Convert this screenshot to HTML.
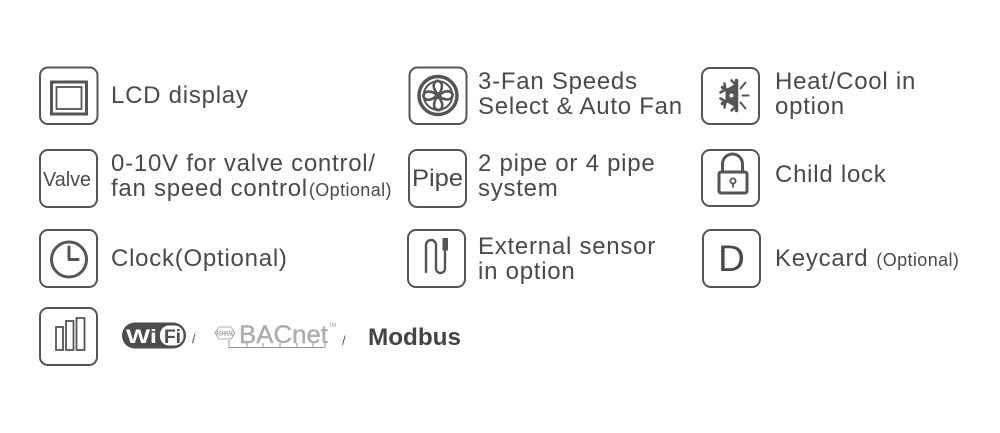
<!DOCTYPE html>
<html>
<head>
<meta charset="utf-8">
<style>
  html,body{margin:0;padding:0;background:#fff;}
  svg{display:block;}
  .t{font-family:"Liberation Sans",Arial,sans-serif;font-size:24px;fill:#4a4a4a;letter-spacing:0.75px;}
  .s{font-family:"Liberation Sans",Arial,sans-serif;font-size:18px;fill:#4a4a4a;letter-spacing:0.4px;}
  .box{fill:none;stroke:#555;stroke-width:2;}
  .ic{fill:none;stroke:#555;stroke-linecap:round;stroke-linejoin:round;}
</style>
</head>
<body>
<svg width="1000" height="433" viewBox="0 0 1000 433" xmlns="http://www.w3.org/2000/svg">
  <rect width="1000" height="433" fill="#fff"/>

  <!-- ===== Row 1 ===== -->
  <!-- LCD -->
  <rect class="box" x="40" y="67.5" width="57.5" height="56.5" rx="8"/>
  <rect x="51.5" y="82" width="35" height="32" fill="none" stroke="#555" stroke-width="3"/>
  <rect x="56.5" y="87" width="25" height="22" fill="none" stroke="#555" stroke-width="1.8"/>
  <text class="t" x="111" y="103">LCD display</text>

  <!-- Fan -->
  <rect class="box" x="409.5" y="67.5" width="57" height="56.5" rx="8"/>
  <circle cx="438" cy="95.5" r="19" fill="none" stroke="#555" stroke-width="3.5"/>
  <circle cx="438" cy="95.5" r="14.3" fill="none" stroke="#555" stroke-width="2"/>
  <g transform="translate(438,95.5) rotate(45)" fill="none" stroke="#555" stroke-width="2.6" stroke-linejoin="round">
    <path d="M0,0 C1,-4 2,-11 7,-11.5 C11.5,-12 12,-7 10,-4.5 C7.5,-1.5 3,0 0,0 Z"/>
    <path d="M0,0 C1,-4 2,-11 7,-11.5 C11.5,-12 12,-7 10,-4.5 C7.5,-1.5 3,0 0,0 Z" transform="rotate(90)"/>
    <path d="M0,0 C1,-4 2,-11 7,-11.5 C11.5,-12 12,-7 10,-4.5 C7.5,-1.5 3,0 0,0 Z" transform="rotate(180)"/>
    <path d="M0,0 C1,-4 2,-11 7,-11.5 C11.5,-12 12,-7 10,-4.5 C7.5,-1.5 3,0 0,0 Z" transform="rotate(270)"/>
    <circle cx="0" cy="0" r="2.2" fill="#555"/>
  </g>
  <text class="t" x="478" y="89">3-Fan Speeds</text>
  <text class="t" x="478" y="114">Select &amp; Auto Fan</text>

  <!-- Heat/Cool -->
  <rect class="box" x="702" y="68" width="57" height="56" rx="8"/>
  <g transform="translate(736.5,95.5)" stroke="#555" stroke-linecap="round" fill="none">
    <path d="M0,-11 L-10,-5.5 L-10,5.5 L0,11 Z" fill="#555" stroke-width="2"/>
    <line x1="0" y1="-15" x2="0" y2="15" stroke-width="3.5"/>
    <line x1="0" y1="0" x2="-14" y2="-8" stroke-width="3.5"/>
    <line x1="0" y1="0" x2="-14" y2="8" stroke-width="3.5"/>
    <path d="M-5,-15 L0,-10" stroke-width="2.5"/>
    <path d="M-16,-3 L-11,-6 L-12,-12" stroke-width="2.5"/>
    <path d="M-16,3 L-11,6 L-12,12" stroke-width="2.5"/>
    <path d="M-5,15 L0,10" stroke-width="2.5"/>
    <circle cx="-5" cy="0" r="2" fill="#fff" stroke="none"/>
    <line x1="4" y1="-7" x2="9" y2="-13" stroke-width="2"/>
    <line x1="6" y1="0" x2="12" y2="0" stroke-width="2"/>
    <line x1="4" y1="7" x2="9" y2="13" stroke-width="2"/>
  </g>
  <text class="t" x="775" y="89">Heat/Cool in</text>
  <text class="t" x="775" y="114">option</text>

  <!-- ===== Row 2 ===== -->
  <rect class="box" x="40" y="150" width="57" height="57" rx="8"/>
  <text x="43" y="186" font-family="Liberation Sans, Arial, sans-serif" font-size="20" fill="#4a4a4a" textLength="48" lengthAdjust="spacingAndGlyphs">Valve</text>
  <text class="t" x="111" y="171">0-10V for valve control/</text>
  <text class="t" x="111" y="196">fan speed control<tspan class="s" dx="1">(Optional)</tspan></text>

  <rect class="box" x="409" y="150" width="57" height="57" rx="8"/>
  <text x="412" y="186" font-family="Liberation Sans, Arial, sans-serif" font-size="24" fill="#4a4a4a" textLength="51" lengthAdjust="spacingAndGlyphs">Pipe</text>
  <text class="t" x="478" y="171">2 pipe or 4 pipe</text>
  <text class="t" x="478" y="196">system</text>

  <rect class="box" x="702" y="150" width="57" height="56" rx="8"/>
  <path d="M722.5,172 V164 A10,10 0 0 1 742.5,164 V172" class="ic" stroke-width="3"/>
  <rect x="719" y="172" width="28" height="21" rx="2" class="ic" stroke-width="3"/>
  <circle cx="733" cy="181" r="2.6" class="ic" stroke-width="1.8"/>
  <line x1="733" y1="183.5" x2="733" y2="187" class="ic" stroke-width="1.8"/>
  <text class="t" x="775" y="182">Child lock</text>

  <!-- ===== Row 3 ===== -->
  <rect class="box" x="40" y="230" width="57" height="57" rx="8"/>
  <circle cx="69" cy="259.5" r="17.5" class="ic" stroke-width="3"/>
  <path d="M69,247 V259.5 H78" class="ic" stroke-width="3"/>
  <text class="t" x="111" y="266">Clock(Optional)</text>

  <rect class="box" x="408" y="230" width="57" height="57" rx="8"/>
  <path d="M426,272 V245 A5,5 0 0 1 436,245 V268.5 A4.5,4.5 0 0 0 445,268.5 V250" class="ic" stroke-width="2.4"/>
  <rect x="442.5" y="238" width="5.5" height="12.5" fill="#555"/>
  <text class="t" x="478" y="254">External sensor</text>
  <text class="t" x="478" y="279">in option</text>

  <rect class="box" x="703" y="230" width="57" height="57" rx="8"/>
  <text x="731.5" y="271" text-anchor="middle" font-family="Liberation Sans, Arial, sans-serif" font-size="37" fill="#4a4a4a">D</text>
  <text class="t" x="775" y="266">Keycard<tspan class="s" dx="8">(Optional)</tspan></text>

  <!-- ===== Row 4 ===== -->
  <rect class="box" x="40" y="308" width="57" height="57" rx="8"/>
  <rect x="56" y="327" width="7" height="23" fill="none" stroke="#555" stroke-width="1.8"/>
  <rect x="66" y="321" width="7.5" height="29" fill="none" stroke="#555" stroke-width="1.8"/>
  <rect x="76.5" y="318" width="8" height="32" fill="none" stroke="#555" stroke-width="1.8"/>

  <rect x="122" y="322.5" width="64" height="26" rx="13" fill="#4d4d4d"/>
  <rect x="160" y="325.5" width="23.5" height="20" rx="9" fill="#fff"/>
  <text x="126" y="343" font-family="Liberation Sans, Arial, sans-serif" font-weight="bold" font-size="19" fill="#fff" textLength="31" lengthAdjust="spacingAndGlyphs">Wi</text>
  <text x="164" y="343" font-family="Liberation Sans, Arial, sans-serif" font-weight="bold" font-size="19" fill="#4d4d4d" textLength="17" lengthAdjust="spacingAndGlyphs">Fi</text>
  <text x="192" y="343" font-family="Liberation Sans, Arial, sans-serif" font-size="13" fill="#555">/</text>

  <polygon points="215,333 219,327 231,327 235,333 231,339 219,339" fill="#fff" stroke="#999" stroke-width="0.8"/>
  <text x="216" y="335.5" font-family="Liberation Sans, Arial, sans-serif" font-size="6" fill="#777" textLength="18" lengthAdjust="spacingAndGlyphs">ASHRAE</text>
  <text x="239" y="343" font-family="Liberation Sans, Arial, sans-serif" font-size="25" fill="#adadad" stroke="#adadad" stroke-width="0.4" textLength="89" lengthAdjust="spacingAndGlyphs">BACnet</text>
  <path d="M229,340 V347.5 H325" fill="none" stroke="#999" stroke-width="1"/>
  <path d="M247,347.5 V343 M263,347.5 V343 M280,347.5 V343 M297,347.5 V343 M313,347.5 V343 M325,347.5 V343" fill="none" stroke="#999" stroke-width="1"/>
  <text x="329" y="327" font-family="Liberation Sans, Arial, sans-serif" font-size="5" fill="#999">TM</text>
  <text x="342" y="345" font-family="Liberation Sans, Arial, sans-serif" font-size="13" fill="#555">/</text>

  <text x="368" y="345" font-family="Liberation Sans, Arial, sans-serif" font-weight="bold" font-size="24" fill="#444" textLength="93" lengthAdjust="spacingAndGlyphs">Modbus</text>
</svg>
</body>
</html>
